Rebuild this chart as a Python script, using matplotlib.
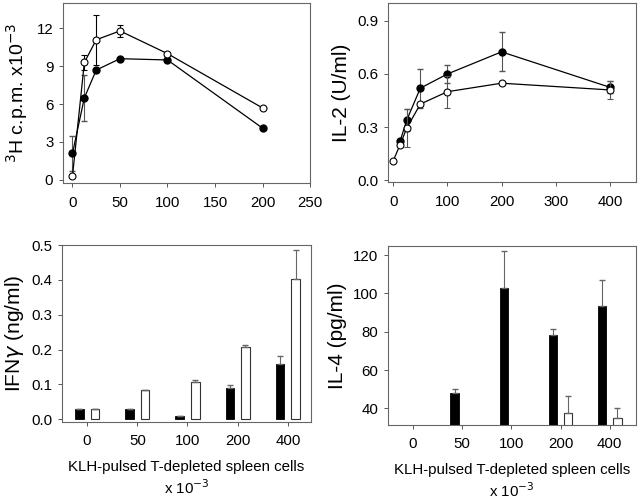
import numpy as np
import matplotlib
matplotlib.use('Agg')
import matplotlib.pyplot as plt

plt.rcParams['font.family'] = ['Liberation Sans', 'DejaVu Sans']
plt.rcParams['font.size'] = 10.8

# proliferation (3H c.p.m. x10^-3)
cpm_x = [0, 12.5, 25, 50, 100, 200]
cpm_open = [0.3, 9.3, 11.1, 11.8, 10.0, 5.7]
cpm_open_err = [0, 0.6, 2.0, 0.5, 0, 0]
cpm_fill = [2.1, 6.5, 8.7, 9.6, 9.5, 4.1]
cpm_fill_err = [1.4, 1.8, 0, 0, 0, 0]

# IL-2 (U/ml)
il2_x_fill = [12.5, 25, 50, 100, 200, 400]
il2_fill = [0.22, 0.34, 0.52, 0.60, 0.725, 0.525]
il2_fill_err = [0, 0.06, 0.11, 0.05, 0.11, 0.035]
il2_x_open = [0, 12.5, 25, 50, 100, 200, 400]
il2_open = [0.11, 0.20, 0.295, 0.43, 0.50, 0.548, 0.51]
il2_open_err = [0, 0, 0.105, 0, 0.09, 0.01, 0.05]

# bar panels
cats = ['0', '50', '100', '200', '400']
ifn_black = [0.03, 0.03, 0.008, 0.089, 0.16]
ifn_black_err = [0, 0, 0, 0.01, 0.021]
ifn_white = [0.03, 0.083, 0.106, 0.206, 0.403]
ifn_white_err = [0, 0, 0.006, 0.008, 0.083]

il4_black = [0, 47.9, 102.7, 78.1, 93.6]
il4_black_err = [0, 2.1, 19.5, 3.2, 13.2]
il4_white = [0, 0, 0, 37.4, 34.7]
il4_white_err = [0, 0, 0, 9.1, 5.3]

fig = plt.figure(figsize=(6.4, 5.01), dpi=100)
ax1 = fig.add_axes([0.0984, 0.6347, 0.386, 0.359])
ax2 = fig.add_axes([0.606, 0.6367, 0.3875, 0.357])
ax3 = fig.add_axes([0.0969, 0.1577, 0.389, 0.353])
ax4 = fig.add_axes([0.606, 0.1517, 0.3875, 0.357])

for ax in [ax1, ax2, ax3, ax4]:
    for s in ax.spines.values():
        s.set_color('#666666')
        s.set_linewidth(0.8)
    ax.tick_params(direction='out', length=3, width=0.7, color='#555555',
                   top=False, right=False, labelsize=10.8, pad=4)
    ax.tick_params(axis='x', pad=6)

ylab = 15

# top left
ax1.errorbar(cpm_x, cpm_open, yerr=cpm_open_err, fmt='-o', color='black',
             mfc='white', mec='black', ms=5, lw=0.9, capsize=2.5, elinewidth=0.8,
             mew=0.8, zorder=3)
ax1.errorbar(cpm_x, cpm_fill, yerr=cpm_fill_err, fmt='-o', color='black',
             mfc='black', ms=5, lw=0.9, capsize=2.5, elinewidth=0.8, ecolor='#555555',
             zorder=2)
ax1.set_xlim(-10, 250)
ax1.set_ylim(-0.25, 14)
ax1.set_xticks([0, 50, 100, 150, 200, 250])
ax1.set_yticks([0, 3, 6, 9, 12])
ax1.set_ylabel(r'$^{3}$H c.p.m. x10$^{-3}$', fontsize=14, labelpad=5)

# top right
ax2.errorbar(il2_x_fill, il2_fill, yerr=il2_fill_err, fmt='-o', color='black',
             mfc='black', ms=5, lw=0.9, capsize=2.5, elinewidth=0.8, ecolor='#555555',
             zorder=2)
ax2.errorbar(il2_x_open, il2_open, yerr=il2_open_err, fmt='-o', color='black',
             mfc='white', mec='black', ms=5, lw=0.9, capsize=2.5, elinewidth=0.8,
             mew=0.8, ecolor='#555555', zorder=3)
ax2.set_xlim(-10, 448)
ax2.set_ylim(-0.01, 1.0)
ax2.set_xticks([0, 100, 200, 300, 400])
ax2.set_yticks([0.0, 0.3, 0.6, 0.9])
ax2.set_yticklabels(['0.0', '0.3', '0.6', '0.9'])
ax2.set_ylabel('IL-2 (U/ml)', fontsize=ylab, labelpad=4)

x = np.arange(len(cats))
w = 0.17
off = 0.155

xlab = 'KLH-pulsed T-depleted spleen cells\n' + r'x 10$^{-3}$'

# bottom left
ax3.bar(x - off, ifn_black, w, color='black', edgecolor='black', lw=0.6)
ax3.bar(x + off, ifn_white, w, color='white', edgecolor='#333333', lw=0.8)
ax3.errorbar(x - off, ifn_black, yerr=[np.zeros(5), ifn_black_err], fmt='none',
             ecolor='#666666', elinewidth=0.8, capsize=2.5)
ax3.errorbar(x + off, ifn_white, yerr=[np.zeros(5), ifn_white_err], fmt='none',
             ecolor='#666666', elinewidth=0.8, capsize=2.5)
ax3.set_xlim(-0.5, 4.46)
ax3.set_ylim(-0.008, 0.5)
ax3.set_xticks(x)
ax3.set_xticklabels(cats)
ax3.set_yticks([0.0, 0.1, 0.2, 0.3, 0.4, 0.5])
ax3.set_yticklabels(['0.0', '0.1', '0.2', '0.3', '0.4', '0.5'])
ax3.set_ylabel(r'IFN$\gamma$ (ng/ml)', fontsize=ylab, labelpad=4)
ax3.set_xlabel(xlab, fontsize=10.8, labelpad=8, linespacing=1.3)

# bottom right
ax4.bar(x - off, il4_black, w, color='black', edgecolor='black', lw=0.6)
ax4.bar(x + off, il4_white, w, color='white', edgecolor='#333333', lw=0.8)
ax4.errorbar((x - off)[1:], il4_black[1:], yerr=[np.zeros(4), il4_black_err[1:]], fmt='none',
             ecolor='#666666', elinewidth=0.8, capsize=2.5)
ax4.errorbar((x + off)[3:], il4_white[3:], yerr=[np.zeros(2), il4_white_err[3:]], fmt='none',
             ecolor='#666666', elinewidth=0.8, capsize=2.5)
ax4.set_xlim(-0.51, 4.53)
ax4.set_ylim(31.3, 124.7)
ax4.set_xticks(x)
ax4.set_xticklabels(cats)
ax4.set_yticks([40, 60, 80, 100, 120])
ax4.set_ylabel('IL-4 (pg/ml)', fontsize=ylab, labelpad=4)
ax4.set_xlabel(xlab, fontsize=10.8, labelpad=8, linespacing=1.3)

fig.savefig('out.png', dpi=100)
